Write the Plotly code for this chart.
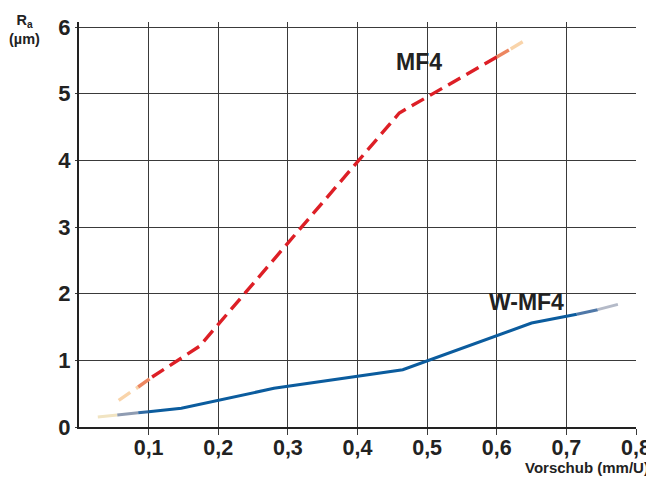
import plotly.graph_objects as go

# MF4 (red, dashed) - Rauheit Ra over Vorschub
mf4_x = [0.057, 0.085, 0.105, 0.15, 0.173, 0.46, 0.60, 0.62, 0.639]
mf4_y = [0.40, 0.60, 0.75, 1.05, 1.21, 4.71, 5.55, 5.67, 5.79]
mf4_colors = ['#f9d4aa', '#ec8660', '#dd1f26', '#dd1f26', '#dd1f26',
              '#dd1f26', '#ec8660', '#f9d4aa']

# W-MF4 (blue, solid)
wmf4_x = [0.027, 0.055, 0.085, 0.10, 0.147, 0.28, 0.465, 0.65, 0.715, 0.745, 0.774]
wmf4_y = [0.15, 0.18, 0.215, 0.23, 0.28, 0.58, 0.86, 1.56, 1.69, 1.76, 1.84]
wmf4_colors = ['#f1e4c2', '#8f9cb2', '#2f6aa3', '#0b5c9e', '#0b5c9e', '#0b5c9e',
               '#0b5c9e', '#0b5c9e', '#4f78a8', '#b4bac8']

x_ticks = [0.1, 0.2, 0.3, 0.4, 0.5, 0.6, 0.7, 0.8]
x_ticktext = ['0,1', '0,2', '0,3', '0,4', '0,5', '0,6', '0,7', '0,8']
y_ticks = [0, 1, 2, 3, 4, 5, 6]

font_name = 'Liberation Sans, Arial, sans-serif'


def add_segments(fig, xs, ys, colors, width, dash):
    # group consecutive segments with the same colour into one trace
    start = 0
    for i in range(1, len(colors) + 1):
        if i == len(colors) or colors[i] != colors[start]:
            fig.add_trace(go.Scatter(
                x=xs[start:i + 1], y=ys[start:i + 1], mode='lines',
                line=dict(color=colors[start], width=width, dash=dash),
                hoverinfo='skip', showlegend=False,
            ))
            start = i


fig = go.Figure()
add_segments(fig, wmf4_x, wmf4_y, wmf4_colors, 3, 'solid')
add_segments(fig, mf4_x, mf4_y, mf4_colors, 3.4, '14px,7px')

fig.add_annotation(x=0.489, y=5.48, text='MF4', showarrow=False,
                   font=dict(size=23, color='#222222', family=font_name, weight='bold'))
fig.add_annotation(x=0.643, y=1.88, text='W-MF4', showarrow=False,
                   font=dict(size=23, color='#222222', family=font_name, weight='bold'))
fig.add_annotation(x=-0.098, y=1.03, xref='paper', yref='paper',
                   text='R<sub>a</sub><br>(µm)', showarrow=False,
                   xanchor='center', yanchor='top', align='center',
                   font=dict(size=14.5, color='#222222', family=font_name, weight='bold'))
fig.add_annotation(x=1.027, y=-0.1, xref='paper', yref='paper',
                   text='Vorschub (mm/U)', showarrow=False,
                   xanchor='right', yanchor='middle',
                   font=dict(size=15, color='#222222', family=font_name, weight='bold'))

fig.update_xaxes(
    range=[0, 0.8], tickvals=x_ticks, ticktext=x_ticktext,
    showgrid=True, gridcolor='#3a3a3a', gridwidth=1.2,
    showline=True, linecolor='#222222', linewidth=2,
    ticks='outside', ticklen=6, tickcolor='#3a3a3a', tickwidth=1.2,
    ticklabelstandoff=-6,
    zeroline=False, fixedrange=True, automargin=False,
    tickfont=dict(size=21.5, color='#222222', family=font_name, weight='bold'),
)
fig.update_yaxes(
    range=[0, 6.075], tickvals=y_ticks,
    showgrid=True, gridcolor='#3a3a3a', gridwidth=1.2,
    showline=True, linecolor='#222222', linewidth=2,
    ticks='outside', ticklen=2, tickcolor='#3a3a3a',
    zeroline=False, fixedrange=True, automargin=False,
    tickfont=dict(size=22, color='#222222', family=font_name, weight='bold'),
)
# the page adds an 8px body margin, so the figure is sized to fit beside it
fig.update_layout(
    width=646, height=470,
    margin=dict(l=71, r=18, t=14, b=51),
    plot_bgcolor='white', paper_bgcolor='white',
    font=dict(family=font_name, color='#222222'),
    showlegend=False,
)

fig.write_html("out.html")
